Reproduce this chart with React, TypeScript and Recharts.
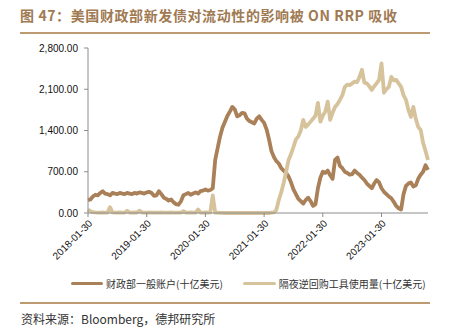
import React from 'react'
import { LineChart, Line, XAxis, YAxis } from 'recharts'

// semi-monthly readings starting 2018-01-30 (billion USD)
const tgaValues = [
  220, 230, 280, 310, 300, 340, 370, 330, 320, 300,
  340, 330, 320, 340, 330, 320, 340, 330, 320, 340,
  330, 350, 340, 330, 350, 360, 340, 290, 300, 370,
  320, 260, 240, 210, 230, 180, 150, 140, 200, 300,
  320, 340, 310, 330, 350, 330, 370, 380, 400, 380,
  390, 420, 900, 1100, 1300, 1450, 1550, 1650, 1720, 1800,
  1760, 1640, 1660, 1700, 1690, 1600, 1560, 1540, 1520, 1600,
  1640, 1580, 1530, 1420, 1250, 1050, 950, 880, 840, 760,
  720, 680, 620, 520, 400, 320, 240, 200, 160, 220,
  260, 200, 120, 150, 420, 600, 700, 680, 720, 640,
  580, 900, 940, 800, 760, 700, 680, 650, 660, 720,
  680, 650, 600, 560, 500, 460, 420, 500, 560, 520,
  420, 360, 320, 280, 250, 190, 120, 80, 60, 320,
  460, 500, 520, 450, 470, 580, 650, 700, 810, 730,
]

const rrpValues = [
  60, 30, 15, 10, 8, 5, 10, 5, 8, 100,
  10, 5, 8, 10, 5, 6, 40, 8, 5, 10,
  8, 40, 10, 5, 8, 10, 5, 6, 8, 5,
  10, 5, 8, 5, 10, 6, 5, 8, 5, 30,
  8, 5, 10, 5, 6, 60, 8, 5, 10, 5,
  10, 300, 5, 5, 3, 2, 0, 0, 0, 0,
  0, 0, 0, 0, 0, 0, 0, 0, 0, 0,
  0, 0, 0, 0, 0, 5, 10, 50, 220, 350,
  510, 700, 900, 1000, 1120, 1250, 1300, 1400, 1580, 1460,
  1500, 1550, 1600, 1650, 1870, 1550, 1650, 1720, 1890, 1580,
  1700, 1800, 1850, 1920, 2000, 2140, 2180, 2170, 2200, 2230,
  2220, 2310, 2430, 2210, 2200, 2150, 2090, 2150, 2200, 2260,
  2540, 2040, 2100, 2140, 2310, 2250, 2260, 2200, 2140, 2000,
  1920, 1750, 1630, 1800, 1600, 1460, 1410, 1190, 1050, 900,
]

const xTickLabels = ['2018-01-30', '2019-01-30', '2020-01-30', '2021-01-30', '2022-01-30', '2023-01-30']
const xTicks = [0, 12, 24, 36, 48, 60]
const yTicks = [0, 700, 1400, 2100, 2800]

const seriesNames = ['财政部一般账户(十亿美元)', '隔夜逆回购工具使用量(十亿美元)']
const title = '图 47：美国财政部新发债对流动性的影响被 ON RRP 吸收'
const source = '资料来源：Bloomberg，德邦研究所'

const BROWN = '#A98058'
const TAN = '#D6C39C'

const data = tgaValues.map((v, i) => ({ m: i / 2, tga: v, rrp: rrpValues[i] }))

const cjk = '"Noto Sans CJK SC", "Liberation Sans", sans-serif'
const latin = '"Liberation Sans", Arial, sans-serif'

export default function App() {
  return (
    <div style={{ position: 'absolute', left: 0, top: 0, width: 449, height: 329, background: '#fff', overflow: 'hidden' }}>
      <div style={{ position: 'absolute', left: 20, top: 5, fontFamily: cjk, fontWeight: 700, fontSize: 14, color: '#A07A52', letterSpacing: 0.6, whiteSpace: 'nowrap' }}>
        {title}
      </div>
      <div style={{ position: 'absolute', left: 20, top: 32, width: 410, height: 1.5, background: '#BE9A72' }} />

      <div style={{ position: 'absolute', left: 0, top: 0 }}>
        <LineChart width={449} height={270} data={data} margin={{ top: 48, right: 21, bottom: 0, left: 8 }}>
          <XAxis
            dataKey="m"
            type="number"
            domain={[0, 69.5]}
            ticks={xTicks}
            tickFormatter={(v: number) => xTickLabels[xTicks.indexOf(v)] ?? ''}
            angle={-45}
            textAnchor="end"
            height={57}
            tickSize={4}
            tickMargin={2}
            stroke="#8c8c8c"
            tick={{ fill: '#111', fontSize: 10, fontFamily: latin }}
            interval={0}
          />
          <YAxis
            domain={[0, 2800]}
            ticks={yTicks}
            width={80}
            tickSize={4}
            tickMargin={6}
            stroke="#8c8c8c"
            tick={{ fill: '#111', fontSize: 10, fontFamily: latin }}
            tickFormatter={(v: number) => v.toLocaleString('en-US', { minimumFractionDigits: 2, maximumFractionDigits: 2 })}
          />
          <Line dataKey="tga" stroke={BROWN} strokeWidth={3.8} dot={false} isAnimationActive={false} strokeLinejoin="round" />
          <Line dataKey="rrp" stroke={TAN} strokeWidth={3.8} dot={false} isAnimationActive={false} strokeLinejoin="round" />
        </LineChart>
      </div>

      <div style={{ position: 'absolute', left: 71, top: 276, display: 'flex', alignItems: 'center', fontFamily: cjk, fontSize: 10, color: '#333', whiteSpace: 'nowrap' }}>
        <span style={{ display: 'inline-block', width: 32, height: 3.5, background: BROWN, borderRadius: 2, marginRight: 3 }} />
        <span>{seriesNames[0]}</span>
        <span style={{ display: 'inline-block', width: 33, height: 3.5, background: TAN, borderRadius: 2, marginLeft: 20, marginRight: 3 }} />
        <span>{seriesNames[1]}</span>
      </div>

      <div style={{ position: 'absolute', left: 20, top: 302, width: 410, height: 1.5, background: '#BE9A72' }} />
      <div style={{ position: 'absolute', left: 21, top: 310, fontFamily: cjk, fontSize: 12, color: '#333', whiteSpace: 'nowrap' }}>
        {source}
      </div>
    </div>
  )
}
